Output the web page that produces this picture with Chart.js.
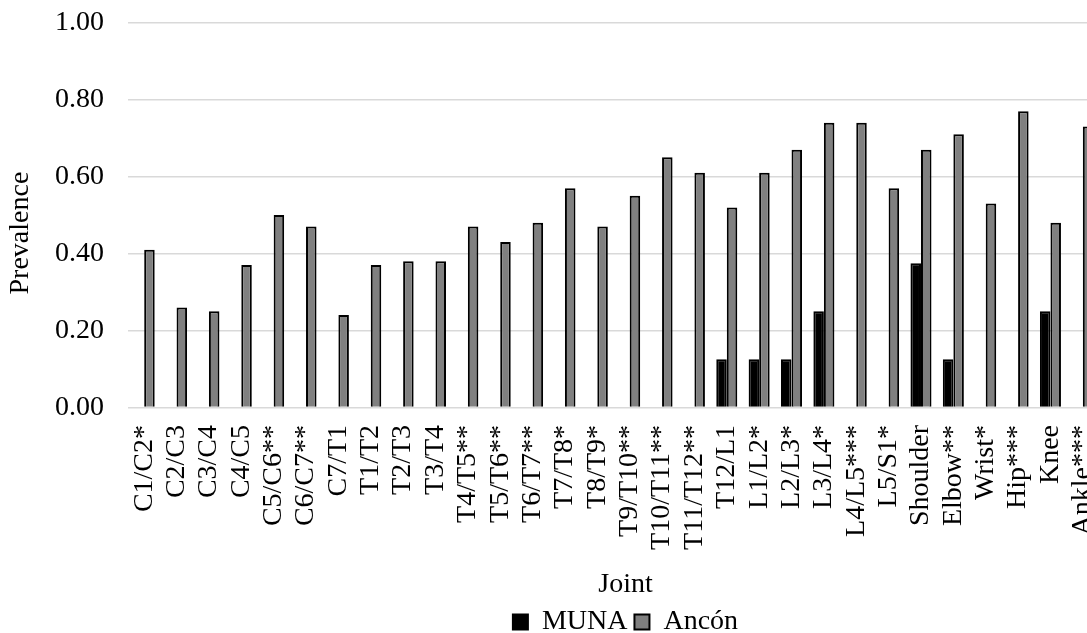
<!DOCTYPE html>
<html>
<head>
<meta charset="utf-8">
<script src="https://cdn.jsdelivr.net/npm/chart.js@4/dist/chart.umd.min.js"></script>
<style>
  html, body { margin: 0; padding: 0; background: #fff; overflow: hidden; }
  #wrap { width: 1100px; height: 633px; }
</style>
</head>
<body>
<div id="wrap"><canvas id="chart" width="1100" height="633"></canvas></div>
<script>
// Joints (asterisks mark significance levels)
const joints = ['C1/C2*', 'C2/C3', 'C3/C4', 'C4/C5', 'C5/C6**', 'C6/C7**', 'C7/T1', 'T1/T2',
  'T2/T3', 'T3/T4', 'T4/T5**', 'T5/T6**', 'T6/T7**', 'T7/T8*', 'T8/T9*', 'T9/T10**',
  'T10/T11**', 'T11/T12**', 'T12/L1', 'L1/L2*', 'L2/L3*', 'L3/L4*', 'L4/L5***', 'L5/S1*',
  'Shoulder', 'Elbow**', 'Wrist*', 'Hip***', 'Knee', 'Ankle***'];

// Prevalence per joint
const muna = [0, 0, 0, 0, 0, 0, 0, 0, 0, 0, 0, 0, 0, 0, 0, 0, 0, 0,
  0.125, 0.125, 0.125, 0.25, 0, 0, 0.375, 0.125, 0, 0, 0.25, 0];
const ancon = [0.41, 0.26, 0.25, 0.37, 0.50, 0.47, 0.24, 0.37, 0.38, 0.38, 0.47, 0.43,
  0.48, 0.57, 0.47, 0.55, 0.65, 0.61, 0.52, 0.61, 0.67, 0.74, 0.74, 0.57, 0.67, 0.71,
  0.53, 0.77, 0.48, 0.73];

// Value axis ticks
const yTicks = [0, 0.2, 0.4, 0.6, 0.8, 1.0];

const serif = '"Liberation Serif", "Times New Roman", serif';
Chart.defaults.font.family = serif;
Chart.defaults.color = '#000';

// Shifts a layout item's drawing routine by (dx, dy) pixels
function shiftDraw(item, method, dx, dy) {
  if (!item || item['_shifted_' + method]) return;
  const original = item[method];
  item[method] = function (...args) {
    const ctx = this.ctx;
    ctx.save();
    ctx.translate(dx, dy);
    original.apply(this, args);
    ctx.restore();
  };
  item['_shifted_' + method] = true;
}

// Title and legend offsets
const titleShift = {
  id: 'titleShift',
  afterLayout(chart) {
    shiftDraw(chart.scales.x, 'drawTitle', 12, 0);
    shiftDraw(chart.scales.y, 'drawTitle', 0, 18);
    shiftDraw(chart.legend, 'draw', 12, 0);
  }
};

new Chart(document.getElementById('chart'), {
  type: 'bar',
  data: {
    labels: joints,
    datasets: [
      { label: 'MUNA', data: muna, backgroundColor: '#000', borderColor: '#000', borderWidth: 2 },
      { label: 'Ancón', data: ancon, backgroundColor: '#808080', borderColor: '#000', borderWidth: 2 }
    ]
  },
  plugins: [titleShift],
  options: {
    responsive: false,
    animation: false,
    layout: { padding: { top: 22.7, right: 1, bottom: -13, left: 0 } },
    datasets: { bar: { categoryPercentage: 0.65, barPercentage: 1.0 } },
    plugins: {
      tooltip: { enabled: false },
      legend: {
        position: 'bottom',
        fullSize: false,
        labels: { font: { size: 28, family: serif }, boxWidth: 15, boxHeight: 15, padding: 7, color: '#000' }
      }
    },
    scales: {
      x: {
        afterFit: (scale) => { scale.paddingLeft = 0; scale.paddingRight = 0; },
        grid: { display: false, drawTicks: false },
        border: { display: false },
        ticks: { autoSkip: false, minRotation: 90, maxRotation: 90, padding: 17.5, font: { size: 28 } },
        title: { display: true, text: 'Joint', font: { size: 28 }, padding: { top: 0, bottom: 0 } }
      },
      y: {
        min: 0,
        max: 1,
        afterBuildTicks: (scale) => { scale.ticks = yTicks.map(v => ({ value: v })); },
        afterFit: (scale) => { scale.width = 128; scale.paddingTop = 0; scale.paddingBottom = 0; },
        grid: { color: '#d9d9d9', lineWidth: 1.5, drawTicks: false },
        border: { display: false },
        ticks: { padding: 24, font: { size: 28 }, callback: (v) => Number(v).toFixed(2) },
        title: { display: true, text: 'Prevalence', font: { size: 28 }, padding: { top: 4, bottom: 0 } }
      }
    }
  }
});
</script>
</body>
</html>
